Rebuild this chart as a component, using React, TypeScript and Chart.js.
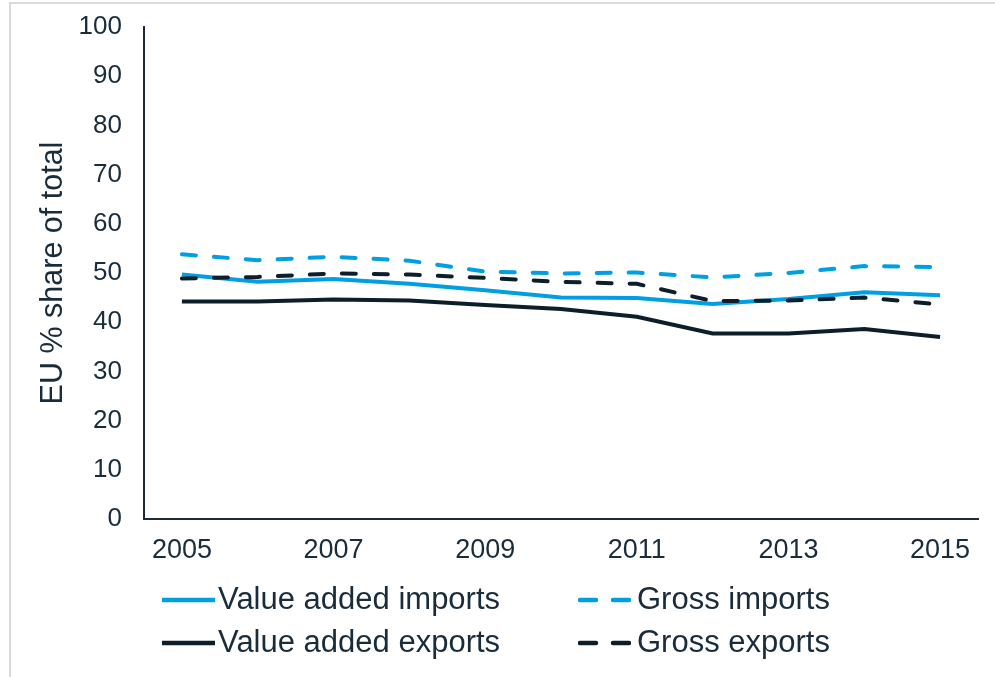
import React, { useEffect, useRef } from "react";
import { Chart, registerables } from "chart.js";

Chart.register(...registerables);

const years = ["2005", "2006", "2007", "2008", "2009", "2010", "2011", "2012", "2013", "2014", "2015"];
const valueAddedImports = [49.7, 48.2, 48.8, 47.8, 46.5, 45.0, 44.9, 43.7, 44.7, 46.1, 45.5];
const grossImports = [53.8, 52.6, 53.3, 52.5, 50.3, 49.9, 50.1, 49.1, 50.0, 51.4, 51.2];
const valueAddedExports = [44.2, 44.2, 44.6, 44.4, 43.5, 42.7, 41.1, 37.7, 37.7, 38.6, 37.0];
const grossExports = [48.9, 49.2, 49.9, 49.7, 49.0, 48.2, 47.8, 44.3, 44.4, 45.0, 43.6];
const yMin = 0;
const yMax = 100;
const yStep = 10;
const yTitle = "EU % share of total";

const BLUE = "#009FE3";
const NAVY = "#0D1E2B";
const TEXT = "#1A2B3A";
const FONT = "'Liberation Sans', Arial, sans-serif";

const legendItems = [
  { label: "Value added imports", color: BLUE, dashed: false, x: 162, y: 584 },
  { label: "Gross imports", color: BLUE, dashed: true, x: 578, y: 584 },
  { label: "Value added exports", color: NAVY, dashed: false, x: 162, y: 627 },
  { label: "Gross exports", color: NAVY, dashed: true, x: 578, y: 627 },
];

export default function App() {
  const ref = useRef<HTMLCanvasElement | null>(null);

  useEffect(() => {
    if (!ref.current) return;
    const chart = new Chart(ref.current, {
      type: "line",
      data: {
        labels: years,
        datasets: [
          {
            label: "Gross exports",
            data: grossExports,
            borderColor: NAVY,
            borderWidth: 4,
            borderDash: [14, 18],
            borderCapStyle: "round",
            pointRadius: 0,
            tension: 0,
          },
          {
            label: "Value added imports",
            data: valueAddedImports,
            borderColor: BLUE,
            borderWidth: 4,
            pointRadius: 0,
            tension: 0,
          },
          {
            label: "Gross imports",
            data: grossImports,
            borderColor: BLUE,
            borderWidth: 4,
            borderDash: [14, 18],
            borderCapStyle: "round",
            pointRadius: 0,
            tension: 0,
          },
          {
            label: "Value added exports",
            data: valueAddedExports,
            borderColor: NAVY,
            borderWidth: 4,
            pointRadius: 0,
            tension: 0,
          },
        ],
      },
      options: {
        responsive: false,
        animation: false,
        layout: { padding: { left: 0, right: 17, top: 27, bottom: 0 } },
        plugins: {
          legend: { display: false },
          tooltip: { enabled: false },
        },
        scales: {
          x: {
            type: "category",
            offset: true,
            grid: { display: false, drawTicks: false },
            border: { display: true, color: "#1D2B38", width: 2 },
            ticks: {
              autoSkip: false,
              maxRotation: 0,
              minRotation: 0,
              padding: 15,
              color: TEXT,
              font: { family: FONT, size: 27 },
              callback: (_v: any, i: number) => (i % 2 === 0 ? years[i] : ""),
            },
            afterFit: (scale: any) => {
              scale.height = 158;
            },
          },
          y: {
            min: yMin,
            max: yMax,
            grid: { display: false, drawTicks: false },
            border: { display: true, color: "#1D2B38", width: 2 },
            ticks: {
              stepSize: yStep,
              padding: 22,
              color: TEXT,
              font: { family: FONT, size: 26 },
            },
            title: {
              display: true,
              text: yTitle,
              color: TEXT,
              font: { family: FONT, size: 30.5 },
              padding: { top: 35, bottom: 0 },
            },
            afterFit: (scale: any) => {
              scale.width = 144;
              scale.paddingTop = 0;
              scale.paddingBottom = 0;
            },
          },
        },
      },
    });
    return () => chart.destroy();
  }, []);

  return (
    <div>
      <div
        style={{
          position: "fixed",
          left: 9,
          top: 2,
          width: 986,
          height: 675,
          borderTop: "2px solid #DADADA",
          borderLeft: "2px solid #DADADA",
          boxSizing: "border-box",
        }}
      />
      <canvas
        ref={ref}
        width={995}
        height={677}
        style={{ position: "fixed", left: 0, top: 0, width: 995, height: 677 }}
      />
      {legendItems.map((it) => (
        <div
          key={it.label}
          style={{
            position: "fixed",
            left: it.x,
            top: it.y,
            height: 30,
            display: "flex",
            alignItems: "center",
            fontFamily: FONT,
            fontSize: 31,
            lineHeight: "30px",
            color: TEXT,
            whiteSpace: "nowrap",
          }}
        >
          <svg width={53} height={30} style={{ display: "block", marginRight: it.dashed ? 6 : 3 }}>
            <line
              x1={it.dashed ? 2 : 0}
              y1={16}
              x2={it.dashed ? 51 : 53}
              y2={16}
              stroke={it.color}
              strokeWidth={4.5}
              strokeLinecap={it.dashed ? "round" : "butt"}
              strokeDasharray={it.dashed ? "16 17" : undefined}
            />
          </svg>
          <span>{it.label}</span>
        </div>
      ))}
    </div>
  );
}
